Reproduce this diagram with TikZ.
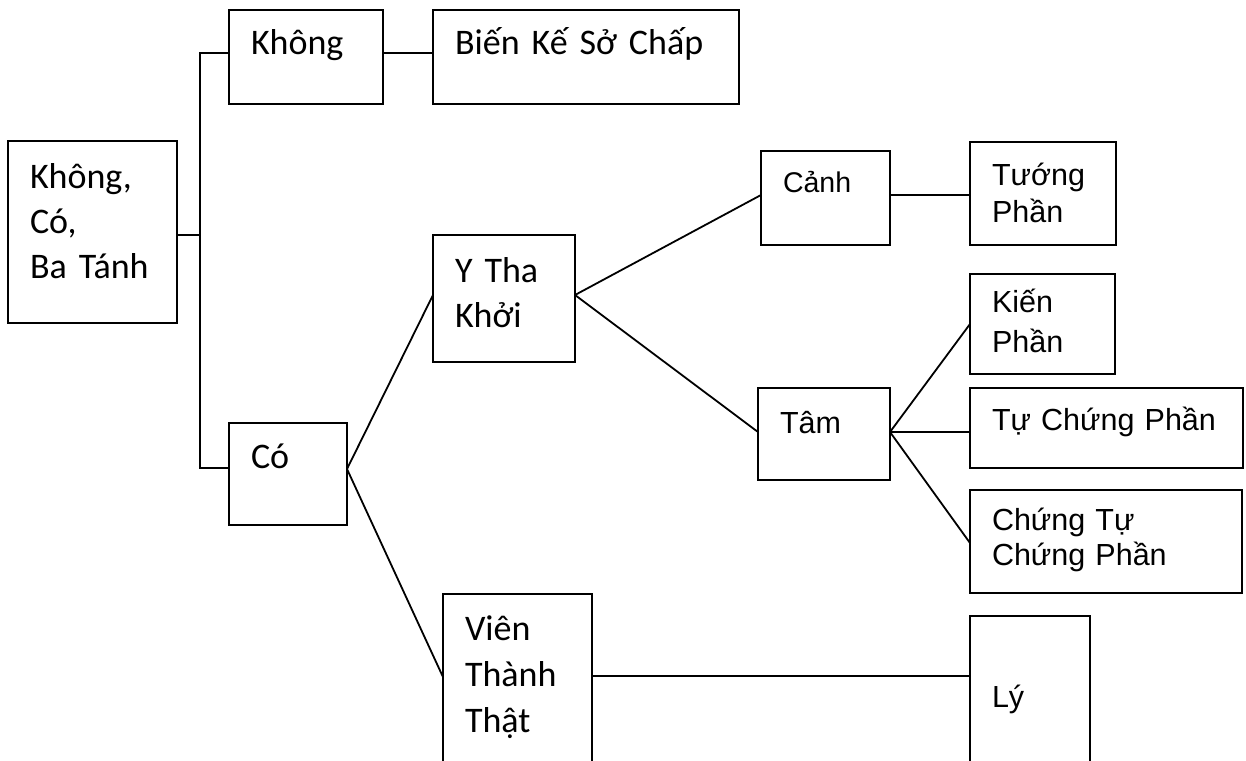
\documentclass[tikz,border=0pt]{standalone}
\usepackage{fontspec}
\setmainfont{Carlito}
\newfontfamily\arialfont{Liberation Sans}
\tikzset{
    x=1pt, y=-1pt, % one unit per pixel, y grows downwards
    box/.style={draw, line width=1.8pt, anchor=north west, outer sep=0pt,
        inner xsep=22pt, inner ysep=0pt, align=left}, % text sits at the top left
    big/.style={font=\fontsize{36}{45}\selectfont},
    small/.style={font=\arialfont\fontsize{30.5}{37}\selectfont},
    link/.style={line width=1.8pt},
}

\begin{document}
\begin{tikzpicture}
  \useasboundingbox (0,0) rectangle (1246,760);
  \clip (0,0) rectangle (1246,760);

  % left part
  \node[box, big, text width=125pt, text height=47pt, text depth=135pt] (root) at (8,141) {Không,\\Có,\\Ba Tánh};
  \node[box, big, text width=110pt, text height=45pt, text depth=49pt] (khong) at (229,10) {Không};
  \node[box, big, text width=262pt, text height=45pt, text depth=49pt] (bien) at (433,10) {Biến Kế Sở Chấp};
  \node[box, big, text width=74pt, text height=45pt, text depth=57pt] (co) at (229,423) {Có};
  \node[box, big, text width=98pt, text height=47pt, text depth=80pt] (ytha) at (433,235) {Y Tha\\Khởi};
  \node[box, big, font=\fontsize{36}{46}\selectfont, text width=105pt, text height=46pt, text depth=154pt] (vien) at (443,594) {Viên\\Thành\\Thật};

  % right part
  \node[box, small, font=\arialfont\fontsize{28.5}{34}\selectfont, text width=85pt, text height=41pt, text depth=53pt] (canh) at (761,151) {Cảnh};
  \node[box, small, text width=102pt, text height=43pt, text depth=60pt] (tuong) at (970,142) {Tướng\\Phần};
  \node[box, small, font=\arialfont\fontsize{30.5}{40}\selectfont, text width=101pt, text height=38pt, text depth=62pt] (kien) at (970,274) {Kiến\\Phần};
  \node[box, small, text width=88pt, text height=45pt, text depth=47pt] (tam) at (758,388) {Tâm};
  \node[box, small, text width=229pt, text height=42pt, text depth=38pt] (tuchung) at (970,388) {Tự Chứng Phần};
  \node[box, small, font=\arialfont\fontsize{30.5}{35}\selectfont, text width=228pt, text height=40pt, text depth=63pt] (chungtu) at (970,490) {Chứng Tự\\Chứng Phần};
  \node[box, small, text width=76pt, text height=91pt, text depth=89pt] (ly) at (970,616) {Lý};

  % the bus on the left
  \coordinate (bus) at (200,235);
  \draw[link] ([yshift=-3pt]root.east) -- (bus);
  \draw[link] ([yshift=4pt]khong.west) -| (bus) |- ([yshift=6pt]co.west);
  \draw[link] ([yshift=4pt]khong.east) -- ([yshift=4pt]khong.east -| bien.west);

  \path[link]
    ([yshift=5pt]co.east) edge ([yshift=3.5pt]ytha.west)
    ([yshift=5pt]co.east) edge ([yshift=17pt]vien.west)
    ([yshift=3.5pt]ytha.east) edge ([yshift=3pt]canh.west)
    ([yshift=3.5pt]ytha.east) edge ([yshift=2pt]tam.west)
    ([yshift=3pt]canh.east) edge ([yshift=3pt]canh.east -| tuong.west)
    ([yshift=2pt]tam.east) edge (kien.west)
    ([yshift=2pt]tam.east) edge ([yshift=2pt]tam.east -| tuchung.west)
    ([yshift=2pt]tam.east) edge ([yshift=-1.5pt]chungtu.west)
    ([yshift=18pt]vien.east) edge ([yshift=18pt]vien.east -| ly.west);
\end{tikzpicture}
\end{document}
